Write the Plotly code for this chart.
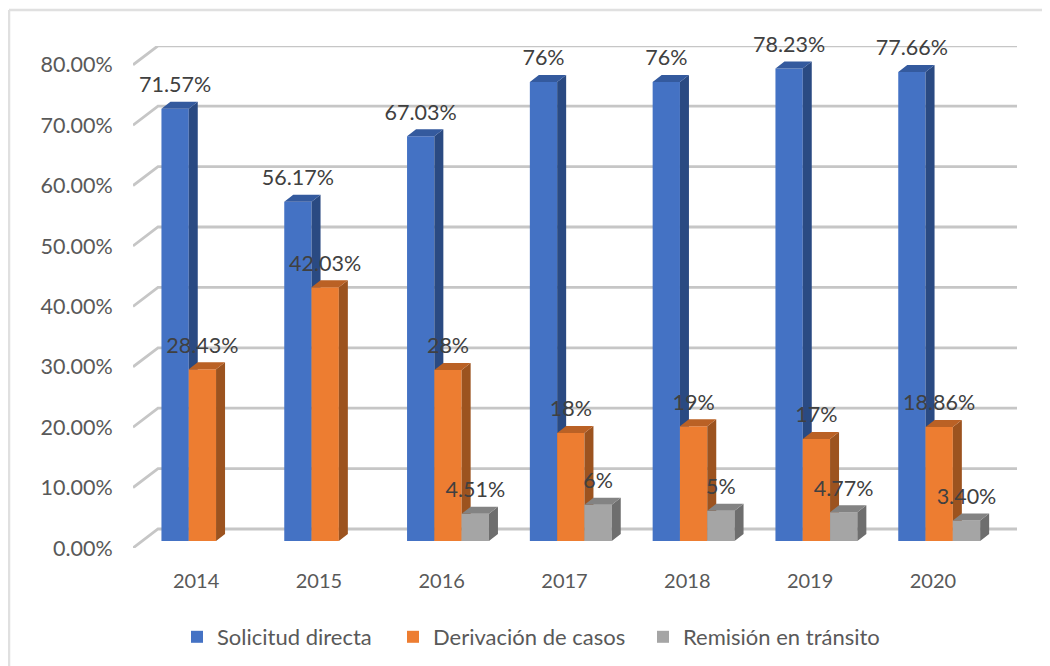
import plotly.graph_objects as go

years = ["2014", "2015", "2016", "2017", "2018", "2019", "2020"]
series_names = ["Solicitud directa", "Derivación de casos", "Remisión en tránsito"]
solicitud = [71.57, 56.17, 67.03, 76, 76, 78.23, 77.66]
derivacion = [28.43, 42.03, 28.3, 17.9, 19, 16.9, 18.86]
remision = [None, None, 4.51, 6, 5, 4.77, 3.40]
solicitud_labels = ["71.57%", "56.17%", "67.03%", "76%", "76%", "78.23%", "77.66%"]
derivacion_labels = ["28.43%", "42.03%", "28%", "18%", "19%", "17%", "18.86%"]
remision_labels = [None, None, "4.51%", "6%", "5%", "4.77%", "3.40%"]
y_ticks = [0, 10, 20, 30, 40, 50, 60, 70, 80]
y_tick_labels = ["0.00%", "10.00%", "20.00%", "30.00%", "40.00%", "50.00%", "60.00%", "70.00%", "80.00%"]

front_colors = ["#4472C4", "#ED7D31", "#A5A5A5"]
side_colors = ["#2A4A82", "#9C531F", "#6E6E6E"]
top_colors = ["#345A9E", "#BA6125", "#838383"]

FONT = "Lato"
# Pixel geometry of the faux-3D box (reference pixels)
W, H = 1050, 666
OFF = 8  # the page's own body margin
PX_L, PX_R, PX_T, PX_B = 133, 1017, 46, 548
PX_PER_CAT = 122.8
PX_PER_UNIT = 6.04
X0_PX = 194.4
xr = [(PX_L - X0_PX) / PX_PER_CAT, (PX_R - X0_PX) / PX_PER_CAT]
yr = [0, (PX_B - PX_T) / PX_PER_UNIT]

WALL_DX = 25 / PX_PER_CAT
WALL_DY = 19 / PX_PER_UNIT
BAR_SHIFT_X = 8 / PX_PER_CAT
BAR_SHIFT_Y = 7 / PX_PER_UNIT
BAR_DX = 9 / PX_PER_CAT
BAR_DY = 7 / PX_PER_UNIT
BAR_W = 27.3 / PX_PER_CAT
LABEL_UP = 22 / PX_PER_UNIT
TICK_SHIFT = 1.7 / PX_PER_CAT


def paper_x(px):
    return (px - PX_L) / (PX_R - PX_L)


def paper_y(py):
    return (PX_B - py) / (PX_B - PX_T)


fig = go.Figure()

gx, gy = [], []
for t in y_ticks:
    gx += [xr[0], xr[0] + WALL_DX, xr[1], None]
    gy += [t, t + WALL_DY, t + WALL_DY, None]
fig.add_trace(go.Scatter(x=gx, y=gy, mode="lines", line=dict(color="#C6C6C6", width=2.8),
                         hoverinfo="skip", showlegend=False, cliponaxis=False))

all_series = [solicitud, derivacion, remision]
all_labels = [solicitud_labels, derivacion_labels, remision_labels]
legend_ids = ["legend", "legend2", "legend3"]
for k, (vals, name) in enumerate(zip(all_series, series_names)):
    ax = k + 2
    xa, ya = f"x{ax}", f"y{ax}"
    xs = [i + BAR_SHIFT_X + (k - 1) * BAR_W for i in range(len(years))]
    fig.add_trace(go.Bar(x=xs, y=vals, base=BAR_SHIFT_Y, width=BAR_W, name=name,
                         marker=dict(color=front_colors[k], line=dict(width=0)),
                         xaxis=xa, yaxis=ya, showlegend=True, legend=legend_ids[k], hoverinfo="skip"))
    sx, sy, tx, ty = [], [], [], []
    for x, v in zip(xs, vals):
        if v is None:
            continue
        l, r = x - BAR_W / 2, x + BAR_W / 2
        b, u = BAR_SHIFT_Y, BAR_SHIFT_Y + v
        sx += [r, r + BAR_DX, r + BAR_DX, r, r, None]
        sy += [b, b + BAR_DY, u + BAR_DY, u, b, None]
        tx += [l, r, r + BAR_DX, l + BAR_DX, l, None]
        ty += [u, u, u + BAR_DY, u + BAR_DY, u, None]
    for px, py, c in ((sx, sy, side_colors[k]), (tx, ty, top_colors[k])):
        fig.add_trace(go.Scatter(x=px, y=py, mode="none", fill="toself", fillcolor=c,
                                 xaxis=xa, yaxis=ya, showlegend=False, hoverinfo="skip"))

for k, (vals, labs) in enumerate(zip(all_series, all_labels)):
    xs = [i + BAR_SHIFT_X + (k - 1) * BAR_W for i in range(len(years))]
    ys = [None if v is None else v + BAR_SHIFT_Y + LABEL_UP for v in vals]
    fig.add_trace(go.Scatter(x=xs, y=ys, text=labs, mode="text", xaxis="x5", yaxis="y5",
                             textposition="middle center", cliponaxis=False,
                             textfont=dict(family=FONT, size=21.5, color="#404040"),
                             showlegend=False, hoverinfo="skip"))

legend_common = dict(orientation="h", xanchor="left", yanchor="middle", y=paper_y(637),
                     font=dict(family=FONT, size=22, color="#595959"), bgcolor="rgba(0,0,0,0)")
layout = dict(
    width=W, height=H, autosize=False,
    margin=dict(l=PX_L - OFF, r=W - PX_R + OFF, t=PX_T - OFF, b=H - PX_B + OFF, pad=0),
    paper_bgcolor="white", plot_bgcolor="white", barmode="overlay",
    font=dict(family=FONT, color="#595959"),
    xaxis=dict(range=xr, tickmode="array", tickvals=[i + TICK_SHIFT for i in range(len(years))],
               ticktext=years, showgrid=False, zeroline=False, showline=False, ticks="outside",
               ticklen=15, tickcolor="rgba(0,0,0,0)", tickfont=dict(size=20, color="#595959")),
    yaxis=dict(range=yr, tickmode="array", tickvals=y_ticks, ticktext=y_tick_labels,
               showgrid=False, zeroline=False, showline=False, ticks="outside", ticklen=15,
               tickcolor="rgba(0,0,0,0)", tickfont=dict(size=21.5, color="#595959")),
    legend=dict(x=paper_x(217 - 40), **legend_common),
    legend2=dict(x=paper_x(433 - 40), **legend_common),
    legend3=dict(x=paper_x(683 - 40), **legend_common),
    shapes=[dict(type="line", xref="paper", yref="paper", x0=paper_x(9), x1=paper_x(1060),
                 y0=paper_y(10), y1=paper_y(10), line=dict(color="#E0E0E0", width=2.5), layer="below"),
            dict(type="line", xref="paper", yref="paper", x0=paper_x(9), x1=paper_x(9),
                 y0=paper_y(10), y1=paper_y(680), line=dict(color="#E0E0E0", width=2.5), layer="below")],
)
for a in range(2, 6):
    layout[f"xaxis{a}"] = dict(range=xr, overlaying="x", visible=False)
    layout[f"yaxis{a}"] = dict(range=yr, overlaying="y", visible=False)
fig.update_layout(**layout)
fig.write_html("out.html")
